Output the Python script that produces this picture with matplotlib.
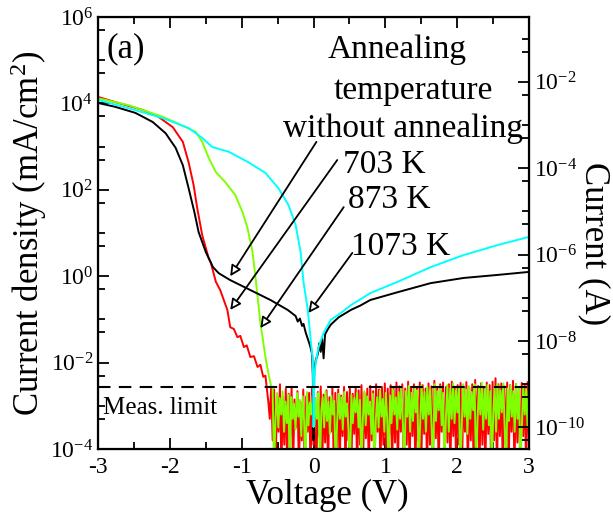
import numpy as np
import matplotlib
matplotlib.use("Agg")
import matplotlib.pyplot as plt
from matplotlib.ticker import FixedLocator, NullFormatter, LogFormatterMathtext

plt.rcParams['font.family'] = ['Liberation Serif', 'DejaVu Serif']
plt.rcParams['mathtext.fontset'] = 'custom'
plt.rcParams['mathtext.rm'] = 'Liberation Serif'
plt.rcParams['mathtext.it'] = 'Liberation Serif:italic'
plt.rcParams['axes.unicode_minus'] = False

# curves: voltage (V) and log10 of current density (mA/cm^2)
v_none = [-3, -2.76, -2.48, -2.24, -2.06, -1.92, -1.82, -1.74, -1.66, -1.60, -1.50, -1.40,
          -1.32, -1.16, -0.88, -0.60, -0.36, -0.25, -0.22, -0.19, -0.16, -0.14, -0.11, -0.08,
          -0.05, -0.02, -0.01, 0.0, 0.01, 0.03, 0.06, 0.08, 0.10, 0.12, 0.14, 0.16, 0.19,
          0.24, 0.35, 0.52, 0.65, 0.79, 1.17, 1.63, 2.09, 2.56, 3.0]
lj_none = [4.01, 3.92, 3.78, 3.57, 3.31, 2.97, 2.57, 2.04, 1.49, 1.02, 0.56, 0.21,
           0.07, -0.09, -0.32, -0.55, -0.78, -0.92, -1.05, -0.98, -1.15, -1.1, -1.3, -1.45,
           -1.6, -1.8, -2.3, -3.8, -2.2, -1.95, -1.8, -1.55, -1.75, -1.45, -1.9, -1.35, -1.25,
           -1.12, -0.95, -0.78, -0.68, -0.55, -0.37, -0.16, -0.04, 0.03, 0.10]

v_703 = [-3, -2.76, -2.38, -2.16, -1.96, -1.82, -1.74, -1.67, -1.62, -1.55, -1.46, -1.43,
         -1.36, -1.30, -1.20, -1.16, -1.11, -1.06, -1.02, -0.97, -0.93, -0.88, -0.83, -0.78,
         -0.74, -0.70, -0.67, -0.65]
lj_703 = [4.15, 4.03, 3.85, 3.69, 3.45, 3.11, 2.64, 2.11, 1.58, 0.95, 0.42, 0.31,
          -0.13, -0.32, -0.78, -1.18, -1.22, -1.41, -1.38, -1.64, -1.6, -1.87, -1.85, -2.10,
          -2.05, -2.33, -2.3, -2.6]

v_873 = [-3, -2.58, -2.10, -1.78, -1.64, -1.55, -1.46, -1.36, -1.23, -1.09, -0.99, -0.92,
         -0.85, -0.81, -0.74, -0.67, -0.63, -0.59]
lj_873 = [4.12, 3.96, 3.69, 3.45, 3.34, 3.11, 2.74, 2.41, 2.18, 1.88, 1.49, 1.12,
          0.56, 0.0, -1.08, -1.87, -2.24, -2.55]

v_1073 = [-3, -2.58, -2.10, -1.74, -1.55, -1.41, -1.18, -0.91, -0.67, -0.49, -0.35, -0.25,
          -0.18, -0.14, -0.08, -0.04, -0.01, 0.0, 0.01, 0.03, 0.07, 0.14, 0.24, 0.38, 0.52,
          0.79, 1.17, 1.63, 2.09, 2.56, 3.0]
lj_1073 = [4.08, 3.89, 3.66, 3.43, 3.20, 2.99, 2.88, 2.64, 2.39, 2.04, 1.65, 1.19,
           0.56, -0.13, -0.78, -1.48, -1.94, -3.49, -2.3, -2.0, -1.64, -1.31, -1.01, -0.85,
           -0.67, -0.39, -0.13, 0.21, 0.49, 0.72, 0.91]

# noise below the measurement limit (log10 mA/cm^2), -4.5 = off scale
noise_703 = [-2.9, -3.3, -2.55, -3.8, -2.62, -4.5, -2.75, -3.6, -2.5, -4.5,
             -2.8, -3.9, -2.6, -4.5, -2.72, -3.7, -2.58, -4.5, -2.85, -3.5,
             -2.66, -4.5, -2.9, -3.8, -2.62, -4.5, -2.78, -3.6, -2.7, -4.5,
             -2.6, -3.9, -2.82, -4.5, -2.68, -3.7, -2.55, -4.5, -2.74, -3.85,
             -2.64, -4.5, -2.8, -3.6, -2.58, -4.5, -2.7, -3.95, -2.62, -4.5,
             -2.76, -3.7, -2.56, -4.5, -2.68, -3.8, -2.6, -4.5, -2.72, -3.65,
             -2.58, -4.5, -2.64, -3.9, -2.52, -4.5, -2.7, -3.75, -2.6, -4.5,
             -2.54, -3.8, -2.66, -4.5, -2.5, -3.6, -2.62, -4.5, -2.56, -3.9,
             -2.48, -4.5, -2.6, -3.7, -2.52, -4.5, -2.58, -3.85, -2.46, -4.5,
             -2.55, -3.6, -2.5, -4.5, -2.6, -3.9, -2.44, -4.5, -2.56, -3.7,
             -2.5, -4.5, -2.58, -3.8, -2.46, -4.5, -2.52, -3.65, -2.6, -4.5,
             -2.48, -3.9, -2.55, -4.5, -2.42, -3.75, -2.58, -4.5, -2.5, -3.6,
             -2.46, -4.5, -2.56, -3.85, -2.5, -4.5, -2.44, -3.7, -2.58, -4.5,
             -2.52, -3.9, -2.47, -4.5, -2.55, -3.6, -2.45, -4.5, -2.58, -3.8,
             -2.5, -4.5, -2.4, -3.7, -2.54, -4.5, -2.48, -3.9, -2.56, -4.5,
             -2.46, -3.65, -2.52, -4.5, -2.44, -3.8, -2.36, -4.5, -2.5, -3.7,
             -2.48, -4.5, -2.55, -3.9, -2.46, -4.5, -2.52, -3.6, -2.42, -4.5,
             -2.5, -3.85, -2.56, -4.5, -2.47, -3.7, -2.53, -4.5, -2.45, -3.8]
noise_873 = [-2.56, -4.5, -3.3, -2.7, -3.5, -2.82, -3.2, -2.66, -3.6, -2.9,
             -3.4, -2.74, -4.5, -2.8, -3.3, -2.95, -3.55, -2.7, -3.25, -2.86,
             -3.7, -2.78, -3.35, -4.5, -2.68, -3.45, -2.92, -3.2, -2.75, -3.6,
             -2.84, -3.3, -2.7, -4.5, -3.1, -2.8, -3.5, -2.66, -3.35, -2.9,
             -3.65, -2.76, -3.2, -2.88, -4.5, -3.4, -2.72, -3.3, -2.8, -3.55,
             -2.68, -3.25, -2.94, -3.6, -4.5, -2.74, -3.4, -2.82, -3.15, -2.7,
             -3.5, -2.86, -4.5, -3.3, -2.66, -3.45, -2.78, -3.2, -2.9, -3.65,
             -2.72, -4.5, -3.35, -2.8, -3.5, -2.64, -3.25, -2.84, -3.6, -2.7,
             -3.3, -4.5, -2.76, -3.4, -2.62, -3.2, -2.8, -3.55, -2.68, -3.3,
             -2.6, -3.45, -4.5, -2.66, -3.25, -2.54, -3.6, -2.7, -3.35, -2.58,
             -3.15, -2.64, -4.5, -3.4, -2.52, -3.3, -2.68, -3.6, -2.56, -3.2,
             -2.62, -3.5, -4.5, -2.5, -3.35, -2.66, -3.1, -2.55, -3.45, -2.7,
             -4.5, -3.25, -2.52, -3.6, -2.6, -3.3, -2.48, -3.4, -2.64, -3.15,
             -2.57, -4.5, -3.5, -2.5, -3.25, -2.62, -3.65, -2.54, -3.3, -2.68,
             -3.1, -2.5, -4.5, -3.4, -2.58, -3.2, -2.46, -3.55, -2.62, -3.3,
             -2.52, -3.45, -2.66, -4.5, -3.2, -2.55, -3.6, -2.5, -3.3, -2.64,
             -3.15, -2.48, -3.5, -4.5, -2.6, -3.35, -2.53, -3.25, -2.66, -3.6,
             -2.5, -3.3, -2.58, -4.5, -3.45, -2.56, -3.2, -2.62, -3.5, -2.54]

meas_limit = 2.7e-3
labels = ["without annealing", "703 K", "873 K", "1073 K"]

fig = plt.figure(figsize=(6.13, 5.24), dpi=100)
ax = fig.add_axes([0.160, 0.143, 0.703, 0.8246])

v703 = np.concatenate([v_703, np.linspace(-0.63, 3.0, len(noise_703))])
j703 = 10 ** np.concatenate([lj_703, noise_703])
v873 = np.concatenate([v_873, np.linspace(-0.57, 3.0, len(noise_873))])
j873 = 10 ** np.concatenate([lj_873, noise_873])

ax.plot(v703, j703, color='#ff0000', lw=1.4)
ax.plot(v873, j873, color='#80ff00', lw=1.4)
ax.plot(v_none, 10 ** np.array(lj_none), color='black', lw=1.4)
ax.plot(v_1073, 10 ** np.array(lj_1073), color='#00ffff', lw=1.4)
ax.axhline(meas_limit, color='black', lw=1.5, ls=(0, (6, 4)))

ax.set_yscale('log')
ax.set_xlim(-3, 3)
ax.set_ylim(1e-4, 1e6)
ax.set_xticks([-3, -2, -1, 0, 1, 2, 3])
ax.set_xticks(np.arange(-2.5, 3, 1.0), minor=True)
ax.set_xticklabels(['-3', '-2', '-1', '0', '1', '2', '3'])
ax.yaxis.set_major_locator(FixedLocator([1e-4, 1e-2, 1e0, 1e2, 1e4, 1e6]))
ax.yaxis.set_major_formatter(LogFormatterMathtext())
lminor = [10.0 ** k for k in range(-3, 6, 2)] + [5 * 10.0 ** k for k in range(-4, 6)]
ax.yaxis.set_minor_locator(FixedLocator(lminor))
ax.yaxis.set_minor_formatter(NullFormatter())
ax.tick_params(which='both', direction='in', top=True, labelsize=17, width=1.3)
ax.tick_params(which='major', length=8)
ax.tick_params(which='minor', length=5)
ax.tick_params(axis='x', pad=6)
for s in ax.spines.values():
    s.set_linewidth(1.6)

ax2 = ax.twinx()
ax2.set_yscale('log')
ax2.set_ylim(10 ** -10.5, 10 ** -0.5)
ax2.yaxis.set_major_locator(FixedLocator([1e-10, 1e-8, 1e-6, 1e-4, 1e-2]))
ax2.yaxis.set_major_formatter(LogFormatterMathtext())
rminor = [10.0 ** k for k in range(-9, 0, 2)] + [5 * 10.0 ** k for k in range(-11, 0)]
ax2.yaxis.set_minor_locator(FixedLocator(rminor))
ax2.yaxis.set_minor_formatter(NullFormatter())
ax2.tick_params(which='both', direction='in', labelsize=17, width=1.3)
ax2.tick_params(which='major', length=8)
ax2.tick_params(which='minor', length=5)

fig.text(0.5334, 0.055, 'Voltage (V)', fontsize=25, ha='center', va='center')
fig.text(0.046, 0.555, 'Current density (mA/cm$^2$)', fontsize=25, rotation=90,
         ha='center', va='center')
fig.text(0.970, 0.536, 'Current (A)', fontsize=25, rotation=270, ha='center', va='center')

ax.text(0.02, 0.965, '(a)', transform=ax.transAxes, fontsize=25, va='top', ha='left')
ax.text(-2.93, 10 ** -2.8, 'Meas. limit', fontsize=18, va='top', ha='left')
ax.text(1.17, 10 ** 5.25, 'Annealing', fontsize=24, ha='center', va='center')
ax.text(1.39, 10 ** 4.29, 'temperature', fontsize=24, ha='center', va='center')
ax.text(1.25, 10 ** 3.41, labels[0], fontsize=24, ha='center', va='center')

# arrows from the labels to the curves
arr_text = [(0.41, 10 ** 2.57), (0.48, 10 ** 1.77), (0.52, 10 ** 0.68)]
for lab, (tx, ty) in zip(labels[1:], arr_text):
    ax.text(tx, ty, lab, fontsize=24, ha='left', va='center')
arr_from = [(0.04, 10 ** 3.11), (0.33, 10 ** 2.69), (0.42, 10 ** 1.60), (0.54, 10 ** 0.54)]
arr_tips = [(-1.16, 10 ** 0.0), (-1.16, 10 ** -0.78), (-0.74, 10 ** -1.20), (-0.07, 10 ** -0.85)]
for src, tip in zip(arr_from, arr_tips):
    ax.annotate('', xy=tip, xytext=src,
                arrowprops=dict(arrowstyle='-|>', fc='white', ec='black', lw=1.3,
                                mutation_scale=16, shrinkA=0, shrinkB=0))

fig.savefig('out.png', dpi=100)
